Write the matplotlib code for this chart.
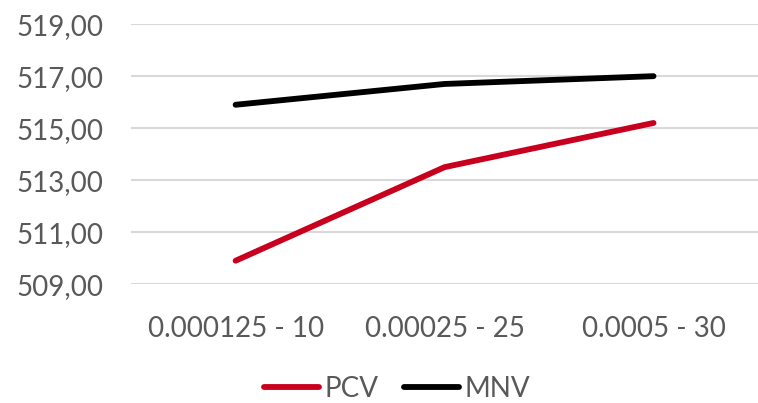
import matplotlib
matplotlib.use("Agg")
import matplotlib.pyplot as plt
from matplotlib.ticker import FuncFormatter

categories = ["0.000125 - 10", "0.00025 - 25", "0.0005 - 30"]
pcv = [509.9, 513.5, 515.2]
mnv = [515.9, 516.7, 517.0]
y_ticks = [509, 511, 513, 515, 517, 519]

plt.rcParams["font.family"] = ["Lato", "DejaVu Sans"]
text_color = "#595959"

fig = plt.figure(figsize=(7.58, 4.03), dpi=100)
ax = fig.add_axes([0.173, 0.295, 0.827, 0.645])

x = list(range(len(categories)))
ax.plot(x, pcv, color="#C8001E", lw=4.2, solid_capstyle="round", label="PCV")
ax.plot(x, mnv, color="#000000", lw=4.2, solid_capstyle="round", label="MNV")

ax.set_xlim(-0.5, len(categories) - 0.5)
ax.set_ylim(509, 519)
ax.set_yticks(y_ticks)
ax.yaxis.set_major_formatter(FuncFormatter(lambda v, p: f"{v:.2f}".replace(".", ",")))
ax.set_xticks(x)
ax.set_xticklabels(categories)

ax.grid(axis="y", color="#D9D9D9", lw=1.5)
ax.set_axisbelow(True)
for s in ax.spines.values():
    s.set_visible(False)
ax.tick_params(axis="y", length=0, pad=20, labelsize=20, labelcolor=text_color)
ax.tick_params(axis="x", length=0, pad=23, labelsize=20, labelcolor=text_color)

handles, labels = ax.get_legend_handles_labels()
leg = fig.legend(handles, labels, loc="center", bbox_to_anchor=(0.524, 0.035),
                 ncol=2, frameon=False, fontsize=20, handlelength=2.0, handletextpad=0.2,
                 columnspacing=0.9)
for t in leg.get_texts():
    t.set_color(text_color)

fig.savefig("out.png", dpi=100)
